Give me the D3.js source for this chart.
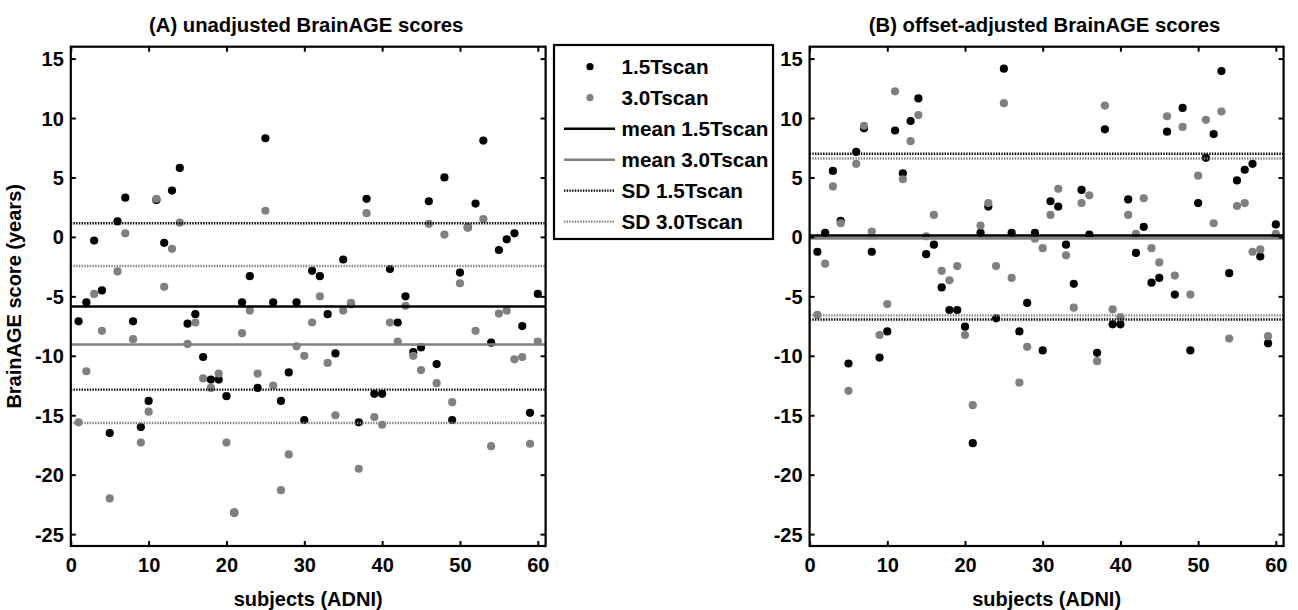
<!DOCTYPE html>
<html>
<head>
<meta charset="utf-8">
<script src="https://cdn.jsdelivr.net/npm/d3@7"></script>
<style>
  html, body { margin: 0; padding: 0; background: #ffffff; }
  svg { display: block; font-family: "Liberation Sans", Arial, Helvetica, sans-serif; font-weight: bold; }
</style>
</head>
<body>
<svg id="chart" width="1298" height="610"></svg>
<script>
// ---------------- data ----------------
const subjects = d3.range(1, 61);

// Panel A: unadjusted BrainAGE scores (years)
const unadj15T = [-7.1, -5.5, -0.3, -4.5, -16.5, 1.3, 3.3, -7.1, -16.0, -13.8,
  3.1, -0.5, 3.9, 5.8, -7.3, -6.5, -10.1, -12.0, -12.0, -13.4,
  -23.2, -5.5, -3.3, -12.7, 8.3, -5.5, -13.8, -11.4, -5.5, -15.4,
  -2.85, -3.3, -6.5, -9.8, -1.9, -5.65, -15.6, 3.2, -13.2, -13.2,
  -2.7, -7.2, -5.0, -9.7, -9.3, 3.0, -10.7, 5.0, -15.4, -3.0,
  0.8, 2.8, 8.1, -8.9, -1.1, -0.2, 0.3, -7.5, -14.8, -4.8];
const unadj30T = [-15.6, -11.3, -4.8, -7.9, -22.0, -2.9, 0.3, -8.6, -17.3, -14.7,
  3.2, -4.2, -1.0, 1.2, -9.0, -7.2, -11.9, -12.7, -11.5, -17.3,
  -23.2, -8.1, -6.2, -11.5, 2.2, -12.5, -21.3, -18.3, -9.2, -10.0,
  -7.2, -5.0, -10.6, -15.0, -6.2, -5.55, -19.5, 2.0, -15.15, -15.8,
  -7.2, -8.8, -5.8, -10.0, -11.2, 1.1, -12.3, 0.2, -13.9, -3.9,
  0.8, -7.9, 1.5, -17.6, -6.45, -6.2, -10.3, -10.1, -17.4, -8.8];
const unadjMean = [-5.85, -9.05];          // mean 1.5T, mean 3.0T
const unadjSD = [[1.15, -12.85], [-2.45, -15.65]]; // SD bands 1.5T, 3.0T

// Panel B: offset-adjusted BrainAGE scores (years)
const adj15T = [-1.25, 0.35, 5.55, 1.35, -10.65, 7.15, 9.15, -1.25, -10.15, -7.95,
  8.95, 5.35, 9.75, 11.65, -1.45, -0.65, -4.25, -6.15, -6.15, -7.55,
  -17.35, 0.35, 2.55, -6.85, 14.15, 0.35, -7.95, -5.55, 0.35, -9.55,
  3.0, 2.55, -0.65, -3.95, 3.95, 0.2, -9.75, 9.05, -7.35, -7.35,
  3.15, -1.35, 0.85, -3.85, -3.45, 8.85, -4.85, 10.85, -9.55, 2.85,
  6.65, 8.65, 13.95, -3.05, 4.75, 5.65, 6.15, -1.65, -8.95, 1.05];
const adj30T = [-6.55, -2.25, 4.25, 1.15, -12.95, 6.15, 9.35, 0.45, -8.25, -5.65,
  12.25, 4.85, 8.05, 10.25, 0.05, 1.85, -2.85, -3.65, -2.45, -8.25,
  -14.15, 0.95, 2.85, -2.45, 11.25, -3.45, -12.25, -9.25, -0.15, -0.95,
  1.85, 4.05, -1.55, -5.95, 2.85, 3.5, -10.45, 11.05, -6.1, -6.75,
  1.85, 0.25, 3.25, -0.95, -2.15, 10.15, -3.25, 9.25, -4.85, 5.15,
  9.85, 1.15, 10.55, -8.55, 2.6, 2.85, -1.25, -1.05, -8.35, 0.25];
const adjMean = [0.12, -0.12];
const adjSD = [[7.0, -6.95], [6.6, -6.6]];

const xTicks = [0, 10, 20, 30, 40, 50, 60];
const yTicks = [15, 10, 5, 0, -5, -10, -15, -20, -25];
const titles = ["(A) unadjusted BrainAGE scores", "(B) offset-adjusted BrainAGE scores"];
const legendLabels = ["1.5Tscan", "3.0Tscan", "mean 1.5Tscan", "mean 3.0Tscan", "SD 1.5Tscan", "SD 3.0Tscan"];
const xLabel = "subjects (ADNI)";
const yLabel = "BrainAGE score (years)";

// ---------------- drawing ----------------
const BLACK = "#000000", GRAY = "#808080";
const svg = d3.select("#chart");
const plotTop = 46.7, plotBottom = 546;
const y = d3.scaleLinear().domain([-26, 16]).range([plotBottom, plotTop]);
const fmt = d => String(d);   // plain hyphen-minus, as in the reference

function panel(x0, x1, s15, s30, means, sds, title, showYLabel) {
  const x = d3.scaleLinear().domain([0, 61]).range([x0, x1]);
  const g = svg.append("g");

  // points: 1.5T first, 3.0T on top
  g.append("g").selectAll("circle").data(subjects).join("circle")
    .attr("cx", d => x(d)).attr("cy", (d, i) => y(s15[i])).attr("r", 4.1).attr("fill", BLACK);
  g.append("g").selectAll("circle").data(subjects).join("circle")
    .attr("cx", d => x(d)).attr("cy", (d, i) => y(s30[i])).attr("r", 4.1).attr("fill", GRAY);

  // mean lines
  [BLACK, GRAY].forEach((c, k) => {
    g.append("line").attr("x1", x0).attr("x2", x1)
      .attr("y1", y(means[k])).attr("y2", y(means[k]))
      .attr("stroke", c).attr("stroke-width", 2.6);
  });
  // SD lines
  [BLACK, GRAY].forEach((c, k) => {
    sds[k].forEach(v => {
      g.append("line").attr("x1", x0).attr("x2", x1)
        .attr("y1", y(v)).attr("y2", y(v))
        .attr("stroke", c).attr("stroke-width", 2.4)
        .attr("stroke-dasharray", "1.4,1.3");
    });
  });

  // axes (ticks inside on all sides)
  const fontSize = "20px";
  const axB = g.append("g").attr("transform", `translate(0,${plotBottom})`)
    .call(d3.axisBottom(x).tickValues(xTicks).tickFormat(fmt).tickSize(-5).tickPadding(12).tickSizeOuter(0));
  const axT = g.append("g").attr("transform", `translate(0,${plotTop})`)
    .call(d3.axisTop(x).tickValues(xTicks).tickSize(-5).tickFormat("").tickSizeOuter(0));
  const axL = g.append("g").attr("transform", `translate(${x0},0)`)
    .call(d3.axisLeft(y).tickValues(yTicks).tickFormat(fmt).tickSize(-5).tickPadding(7).tickSizeOuter(0));
  const axR = g.append("g").attr("transform", `translate(${x1},0)`)
    .call(d3.axisRight(y).tickValues(yTicks).tickSize(-5).tickFormat("").tickSizeOuter(0));
  [axB, axT, axL, axR].forEach(a => {
    a.select(".domain").remove();
    a.selectAll(".tick line").attr("stroke", BLACK).attr("stroke-width", 2);
    a.selectAll("text").attr("fill", BLACK).style("font-size", fontSize)
      .style("font-family", "'Liberation Sans', Arial, sans-serif").style("font-weight", "bold");
  });
  axB.selectAll("text").attr("dy", "0.71em");
  axL.selectAll("text").attr("dy", "0.35em");

  // frame
  g.append("rect").attr("x", x0).attr("y", plotTop).attr("width", x1 - x0).attr("height", plotBottom - plotTop)
    .attr("fill", "none").attr("stroke", BLACK).attr("stroke-width", 2.2);

  // titles
  g.append("text").attr("x", (x0 + x1) / 2 - 2).attr("y", 32).attr("text-anchor", "middle")
    .style("font-size", "20.3px").text(title);
  g.append("text").attr("x", (x0 + x1) / 2).attr("y", 606).attr("text-anchor", "middle")
    .style("font-size", "20px").text(xLabel);
  if (showYLabel) {
    g.append("text").attr("transform", `translate(21,${(plotTop + plotBottom) / 2}) rotate(-90)`)
      .attr("text-anchor", "middle").style("font-size", "20px").text(yLabel);
  }
}

panel(70.8, 545.6, unadj15T, unadj30T, unadjMean, unadjSD, titles[0], true);
panel(809.6, 1283.6, adj15T, adj30T, adjMean, adjSD, titles[1], false);

// legend
const lg = svg.append("g");
lg.append("rect").attr("x", 554).attr("y", 45).attr("width", 219).attr("height", 194)
  .attr("fill", "#fff").attr("stroke", BLACK).attr("stroke-width", 2.2);
const rowY = d3.scaleLinear().domain([0, 5]).range([66.7, 221.7]);
const legendStyle = [
  {type: "dot", color: BLACK}, {type: "dot", color: GRAY},
  {type: "line", color: BLACK}, {type: "line", color: GRAY},
  {type: "dash", color: BLACK}, {type: "dash", color: GRAY}
];
legendLabels.forEach((lab, i) => {
  const yy = rowY(i), st = legendStyle[i];
  if (st.type === "dot") {
    lg.append("circle").attr("cx", 590).attr("cy", yy).attr("r", 3.6).attr("fill", st.color);
  } else {
    lg.append("line").attr("x1", 564).attr("x2", 615).attr("y1", yy).attr("y2", yy)
      .attr("stroke", st.color).attr("stroke-width", st.type === "line" ? 2.6 : 2.2)
      .attr("stroke-dasharray", st.type === "dash" ? "1.4,1.3" : null);
  }
  lg.append("text").attr("x", 621.5).attr("y", yy).attr("dy", "0.36em")
    .style("font-size", "20.7px").text(lab);
});
</script>
</body>
</html>
